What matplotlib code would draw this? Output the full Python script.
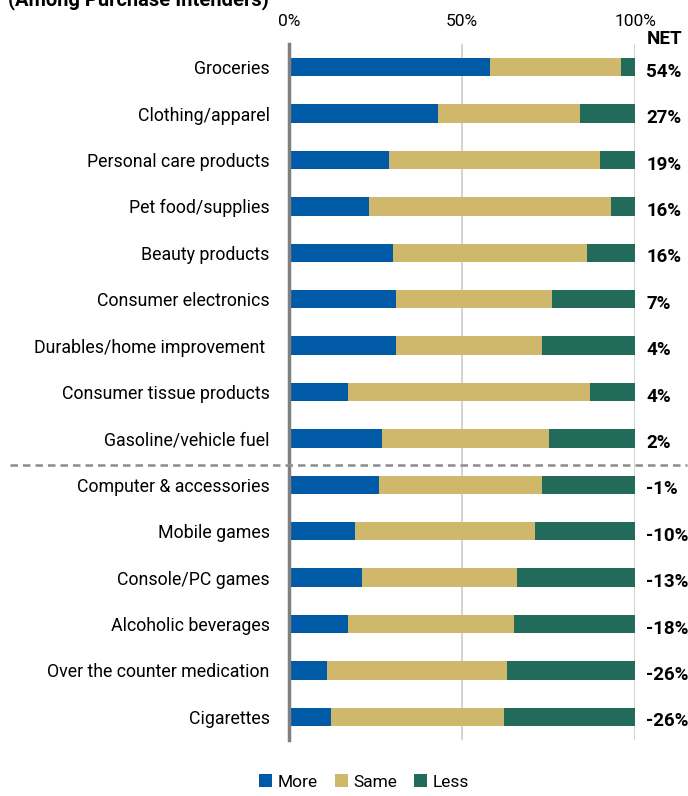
import matplotlib
matplotlib.use("Agg")
import matplotlib.pyplot as plt
from matplotlib.patches import Patch

plt.rcParams['font.family'] = ['Roboto', 'DejaVu Sans']

categories = [
    "Groceries", "Clothing/apparel", "Personal care products", "Pet food/supplies",
    "Beauty products", "Consumer electronics", "Durables/home improvement ",
    "Consumer tissue products", "Gasoline/vehicle fuel", "Computer & accessories",
    "Mobile games", "Console/PC games", "Alcoholic beverages",
    "Over the counter medication", "Cigarettes",
]
more = [58, 43, 29, 23, 30, 31, 31, 17, 27, 26, 19, 21, 17, 11, 12]
same = [38, 41, 61, 70, 56, 45, 42, 70, 48, 47, 52, 45, 48, 52, 50]
less = [4, 16, 10, 7, 14, 24, 27, 13, 25, 27, 29, 34, 35, 37, 38]
net = [54, 27, 19, 16, 16, 7, 4, 4, 2, -1, -10, -13, -18, -26, -26]
series_names = ["More", "Same", "Less"]
ticks = [0, 50, 100]
tick_labels = ["0%", "50%", "100%"]

colors = ["#005AA5", "#CFB76B", "#226B5B"]

fig = plt.figure(figsize=(6.88, 7.96), dpi=100)
ax = fig.add_axes([289 / 688, 1 - 740 / 796, 346 / 688, (740 - 44) / 796])

y = list(range(len(categories)))
left = [0] * len(categories)
for vals, col, name in zip([more, same, less], colors, series_names):
    ax.barh(y, vals, left=left, height=0.4, color=col, label=name, zorder=3)
    left = [l + v for l, v in zip(left, vals)]

ax.set_xlim(0, 100)
ax.set_ylim(len(categories) - 0.5, -0.5)
ax.set_yticks(y)
ax.set_yticklabels(categories, fontsize=12.8)
ax.tick_params(axis='y', length=0, pad=14)
ax.xaxis.tick_top()
ax.set_xticks(ticks)
ax.set_xticklabels(tick_labels, fontsize=12.5)
ax.tick_params(axis='x', length=0, pad=11)
ax.grid(axis='x', color="#cccccc", linewidth=1.2, zorder=0)
for s in ["top", "right", "bottom"]:
    ax.spines[s].set_visible(False)
ax.spines["left"].set_color("#808080")
ax.spines["left"].set_linewidth(2.5)
ax.spines["left"].set_zorder(4)

# NET column
for yi, n in zip(y, net):
    ax.text(103.3, yi + 0.1, f"{n}%", fontsize=13.5, fontweight='bold', va='center', ha='left')
ax.text(103.3, -0.42, "NET", fontsize=13.5, fontweight='bold', va='bottom', ha='left')

# separator between positive and negative NET groups
ax.plot([-80.5, 115], [8.57, 8.57], transform=ax.transData, clip_on=False,
        color="#8c8c8c", linestyle=(0, (3, 2)), linewidth=1.8, zorder=5)

fig.text(8 / 688, 1 - 5 / 796, "(Among Purchase Intenders)", fontsize=14.5,
         fontweight='bold', ha='left', va='baseline')

handles = [Patch(facecolor=c, label=n) for c, n in zip(colors, series_names)]
fig.legend(handles=handles, loc='center', bbox_to_anchor=(364 / 688, 1 - 782 / 796),
           ncol=3, frameon=False, fontsize=12.5, handlelength=0.75, handleheight=0.75,
           handletextpad=0.3, columnspacing=1.0)

fig.savefig("out.png", dpi=100)
